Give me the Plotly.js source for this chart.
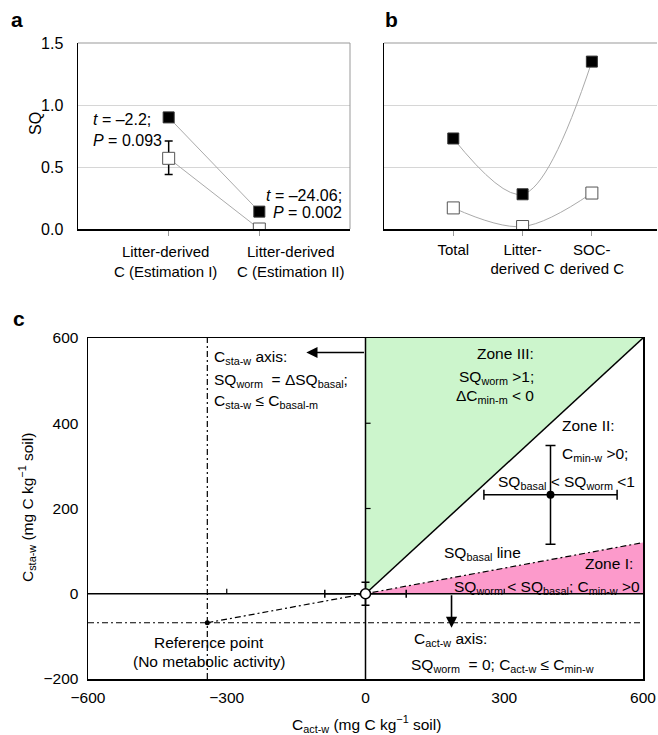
<!DOCTYPE html>
<html><head><meta charset="utf-8">
<script src="https://cdn.plot.ly/plotly-3.0.1.min.js"></script>
<style>html,body{margin:0;padding:0;background:#fff}#chart{width:658px;height:735px}</style>
</head><body><div id="chart"></div>
<script>
// ---------- data ----------
const catsA = ['Litter-derived<br>C (Estimation I)', 'Litter-derived<br>C (Estimation II)'];
const wormA = [0.90, 0.14];
const wormAErr = [0.03, 0.01];
const basalA = [0.57, 0.00];
const basalAErrPlus = [0.14, 0];
const basalAErrMinus = [0.13, 0];

const catsB = ['Total', 'Litter-<br>derived C', 'SOC-<br>derived C'];
const wormB = [0.73, 0.28, 1.35];
const basalB = [0.17, 0.02, 0.29];

const yTicksAB = [0, 0.5, 1.0, 1.5];
const yTickTextAB = ['0.0', '0.5', '1.0', '1.5'];

const xTicksC = [-600, -300, 0, 300, 600];
const yTicksC = [-200, 0, 200, 400, 600];
const innerXTicks = [-300, 300];
const innerYTicks = [200, 400];
const xLim = [-600, 600];
const yLim = [-200, 600];
const refPoint = [-342, -68];
const basalSlope = 0.2;
const zonePoint = [400, 232];
const zoneErr = [144, 116];
const originErr = [88, 27];
const arrowSta = [[0, 566], [-128, 566]];
const arrowAct = [[186, 0], [186, -80]];

// ---------- helpers ----------
const W = 658, H = 735;
const px = v => v / W;
const py = v => 1 - v / H;
const FONT = 'Liberation Sans, Arial, sans-serif';
const FS = 15.5;

function ann(text, x, y, xanchor, opts) {
  return Object.assign({
    text: text, xref: 'paper', yref: 'paper', x: px(x), y: py(y),
    xanchor: xanchor || 'left', yanchor: 'middle', showarrow: false,
    font: {family: FONT, size: FS, color: '#000'}
  }, opts || {});
}

const traces = [];

// ---------- panel a ----------
traces.push({x: catsA, y: wormA, xaxis: 'x', yaxis: 'y', mode: 'lines',
  line: {color: '#aaaaaa', width: 1}, hoverinfo: 'skip', showlegend: false});
traces.push({x: catsA, y: basalA, xaxis: 'x', yaxis: 'y', mode: 'lines',
  line: {color: '#aaaaaa', width: 1}, hoverinfo: 'skip', showlegend: false});
traces.push({x: catsA, y: basalA, xaxis: 'x', yaxis: 'y', mode: 'markers',
  marker: {symbol: 'square', size: 12, color: '#fff', line: {color: '#555', width: 1}},
  error_y: {type: 'data', symmetric: false, array: basalAErrPlus, arrayminus: basalAErrMinus,
    color: '#000', thickness: 1.5, width: 4}, showlegend: false});
traces.push({x: catsA, y: wormA, xaxis: 'x', yaxis: 'y', mode: 'markers',
  marker: {symbol: 'square', size: 11, color: '#000', line: {color: '#333', width: 1}},
  error_y: {type: 'data', array: wormAErr, color: '#000', thickness: 1.5, width: 4},
  showlegend: false});

// ---------- panel b ----------
traces.push({x: catsB, y: wormB, xaxis: 'x2', yaxis: 'y2', mode: 'lines',
  line: {color: '#aaaaaa', width: 1, shape: 'spline', smoothing: 1}, showlegend: false});
traces.push({x: catsB, y: basalB, xaxis: 'x2', yaxis: 'y2', mode: 'lines',
  line: {color: '#aaaaaa', width: 1, shape: 'spline', smoothing: 1}, showlegend: false});
traces.push({x: catsB, y: basalB, xaxis: 'x2', yaxis: 'y2', mode: 'markers',
  marker: {symbol: 'square', size: 12, color: '#fff', line: {color: '#555', width: 1}}, showlegend: false});
traces.push({x: catsB, y: wormB, xaxis: 'x2', yaxis: 'y2', mode: 'markers',
  marker: {symbol: 'square', size: 11, color: '#000', line: {color: '#333', width: 1}}, showlegend: false});

// ---------- panel c ----------
const xMax = xLim[1], yMax = yLim[1];
traces.push({x: [0, 0, xMax, 0], y: [0, yMax, yMax, 0], xaxis: 'x3', yaxis: 'y3',
  mode: 'lines', fill: 'toself', fillcolor: '#ccf5cc', line: {width: 0}, showlegend: false, hoverinfo: 'skip'});
traces.push({x: [0, xMax, xMax, 0], y: [0, 0, xMax * basalSlope, 0], xaxis: 'x3', yaxis: 'y3',
  mode: 'lines', fill: 'toself', fillcolor: '#fc9acb', line: {width: 0}, showlegend: false, hoverinfo: 'skip'});
const DD = '6px,3px,2px,3px';
traces.push({x: [refPoint[0], refPoint[0]], y: yLim, xaxis: 'x3', yaxis: 'y3', mode: 'lines',
  line: {color: '#000', width: 1.2, dash: DD}, showlegend: false, hoverinfo: 'skip'});
traces.push({x: xLim, y: [refPoint[1], refPoint[1]], xaxis: 'x3', yaxis: 'y3', mode: 'lines',
  line: {color: '#000', width: 1.2, dash: DD}, showlegend: false, hoverinfo: 'skip'});
traces.push({x: [refPoint[0], xMax], y: [refPoint[1], xMax * basalSlope], xaxis: 'x3', yaxis: 'y3', mode: 'lines',
  line: {color: '#000', width: 1.2, dash: DD}, showlegend: false, hoverinfo: 'skip'});
traces.push({x: [0, xMax], y: [0, yMax], xaxis: 'x3', yaxis: 'y3', mode: 'lines',
  line: {color: '#000', width: 1.5}, showlegend: false, hoverinfo: 'skip'});
traces.push({x: xLim, y: [0, 0], xaxis: 'x3', yaxis: 'y3', mode: 'lines',
  line: {color: '#000', width: 1.5}, showlegend: false, hoverinfo: 'skip'});
traces.push({x: [0, 0], y: yLim, xaxis: 'x3', yaxis: 'y3', mode: 'lines',
  line: {color: '#000', width: 1.5}, showlegend: false, hoverinfo: 'skip'});
const tx = [], ty = [];
innerXTicks.forEach(v => { tx.push(v, v, null); ty.push(0, 12, null); });
innerYTicks.forEach(v => { tx.push(0, 11, null); ty.push(v, v, null); });
traces.push({x: tx, y: ty, xaxis: 'x3', yaxis: 'y3', mode: 'lines',
  line: {color: '#000', width: 1.2}, showlegend: false, hoverinfo: 'skip'});
traces.push({x: [refPoint[0]], y: [refPoint[1]], xaxis: 'x3', yaxis: 'y3', mode: 'markers',
  marker: {color: '#000', size: 5}, showlegend: false});
traces.push({x: [zonePoint[0]], y: [zonePoint[1]], xaxis: 'x3', yaxis: 'y3', mode: 'markers',
  marker: {color: '#000', size: 8},
  error_x: {type: 'data', array: [zoneErr[0]], color: '#000', thickness: 1.5, width: 5},
  error_y: {type: 'data', array: [zoneErr[1]], color: '#000', thickness: 1.5, width: 5},
  showlegend: false});
traces.push({x: [0], y: [0], xaxis: 'x3', yaxis: 'y3', mode: 'markers',
  marker: {color: '#fff', size: 10, line: {color: '#000', width: 1.5}},
  error_x: {type: 'data', array: [originErr[0]], color: '#000', thickness: 1.5, width: 4},
  error_y: {type: 'data', array: [originErr[1]], color: '#000', thickness: 1.5, width: 4},
  showlegend: false});

// ---------- layout ----------
const tickFont = {family: FONT, size: FS, color: '#000'};
const abFont = {family: FONT, size: 16, color: '#000'};
const catFont = {family: FONT, size: 15, color: '#000'};
const annotations = [
  ann('<b>a</b>', 17, 19, 'center', {font: {family: FONT, size: 21, color: '#000'}}),
  ann('<b>b</b>', 391, 19, 'center', {font: {family: FONT, size: 21, color: '#000'}}),
  ann('<b>c</b>', 19, 319, 'center', {font: {family: FONT, size: 21, color: '#000'}}),
  ann('SQ', 36, 124, 'center', {textangle: -90, font: abFont}),
  ann('<i>t</i> = –2.2;', 91, 120, 'left', {font: abFont}),
  ann('<i>P</i> = 0.093', 91, 141, 'left', {font: abFont}),
  ann('<i>t</i> = –24.06;', 344, 195, 'right', {font: abFont}),
  ann('<i>P</i> = 0.002', 344, 213, 'right', {font: abFont}),
  // panel a category labels (placed as in the reference, slightly off the ticks)
  ann(catsA[0], 165, 241, 'center', {yanchor: 'top', font: catFont}),
  ann(catsA[1], 291, 241, 'center', {yanchor: 'top', font: catFont}),
  ann('C<sub>sta-w</sub> (mg C kg<sup>−1</sup> soil)', 27, 508, 'center', {textangle: -90}),
  ann('C<sub>act-w</sub> (mg C kg<sup>−1</sup> soil)', 366, 724, 'center'),
  ann('C<sub>sta-w</sub> axis:', 212, 357, 'left'),
  ann('SQ<sub>worm</sub>  = ΔSQ<sub>basal</sub>;', 212, 380, 'left'),
  ann('C<sub>sta-w</sub> ≤ C<sub>basal-m</sub>', 212, 401, 'left'),
  ann('Zone III:', 536, 353, 'right'),
  ann('SQ<sub>worm</sub> >1;', 536, 377, 'right'),
  ann('ΔC<sub>min-m</sub> < 0', 536, 396, 'right'),
  ann('Zone II:', 560, 425, 'left'),
  ann('C<sub>min-w</sub> >0;', 560, 454, 'left'),
  ann('SQ<sub>basal</sub> < SQ<sub>worm</sub> <1', 496, 482, 'left'),
  ann('SQ<sub>basal</sub> line', 442, 553, 'left'),
  ann('Zone I:', 635, 563, 'right'),
  ann('SQ<sub>worm</sub> < SQ<sub>basal</sub>; C<sub>min-w</sub> >0', 642, 587, 'right'),
  ann('C<sub>act-w</sub> axis:', 412, 639, 'left'),
  ann('SQ<sub>worm</sub>  = 0; C<sub>act-w</sub> ≤ C<sub>min-w</sub>', 409, 665, 'left'),
  ann('Reference point', 209, 642, 'center'),
  ann('(No metabolic activity)', 209, 661, 'center'),
  {x: arrowSta[1][0], y: arrowSta[1][1], ax: arrowSta[0][0], ay: arrowSta[0][1],
   xref: 'x3', yref: 'y3', axref: 'x3', ayref: 'y3', text: '', showarrow: true,
   arrowhead: 2, arrowsize: 1.4, arrowwidth: 1.6, arrowcolor: '#000', standoff: 0, startstandoff: 0},
  {x: arrowAct[1][0], y: arrowAct[1][1], ax: arrowAct[0][0], ay: arrowAct[0][1],
   xref: 'x3', yref: 'y3', axref: 'x3', ayref: 'y3', text: '', showarrow: true,
   arrowhead: 2, arrowsize: 1.4, arrowwidth: 1.6, arrowcolor: '#000', standoff: 0, startstandoff: 0}
];

const shapes = [
  {type: 'line', xref: 'x domain', yref: 'y domain', x0: 0, x1: 1, y0: 1, y1: 1, line: {color: '#999', width: 1}},
  {type: 'line', xref: 'x domain', yref: 'y domain', x0: 1, x1: 1, y0: 0, y1: 1, line: {color: '#999', width: 1}},
  {type: 'line', xref: 'x2 domain', yref: 'y2 domain', x0: 0, x1: 1, y0: 1, y1: 1, line: {color: '#999', width: 1}}
];

const catAxis = (domain, anchor, range, showLabels) => ({
  domain: domain, anchor: anchor, type: 'category', range: range, tickangle: 0,
  showticklabels: showLabels,
  showgrid: false, zeroline: false, showline: true, linecolor: '#000', linewidth: 1.5,
  ticks: 'outside', ticklen: 5, tickcolor: '#999', tickwidth: 1,
  tickfont: catFont, ticklabelstandoff: 1, fixedrange: true
});
const sqAxis = (domain, anchor, showLabels) => ({
  domain: domain, anchor: anchor, range: [0, 1.5], tickvals: yTicksAB, ticktext: yTickTextAB,
  showticklabels: showLabels, showgrid: true, gridcolor: '#d6d6d6', gridwidth: 1,
  zeroline: false, showline: true, linecolor: '#000', linewidth: 1.5, ticks: '',
  tickfont: abFont, ticklabelstandoff: 10, fixedrange: true
});

const layout = {
  width: W, height: H, margin: {l: 0, r: 0, t: 0, b: 0},
  paper_bgcolor: '#fff', plot_bgcolor: 'rgba(0,0,0,0)', showlegend: false,
  font: {family: FONT, size: FS, color: '#000'},
  xaxis: catAxis([px(78), px(350)], 'y', [-1, 2], false),
  yaxis: sqAxis([py(229), py(43)], 'x', true),
  xaxis2: catAxis([px(384), px(657)], 'y2', [-1, 2.94], true),
  yaxis2: sqAxis([py(229), py(43)], 'x2', false),
  xaxis3: {domain: [px(88), px(643)], anchor: 'y3', range: xLim, tickvals: xTicksC,
    showgrid: false, zeroline: false, showline: true, mirror: true, linecolor: '#000', linewidth: 1.5,
    ticks: '', tickfont: tickFont, ticklabelstandoff: 4, fixedrange: true},
  yaxis3: {domain: [py(679), py(338)], anchor: 'x3', range: yLim, tickvals: yTicksC,
    showgrid: false, zeroline: false, showline: true, mirror: true, linecolor: '#000', linewidth: 1.5,
    ticks: '', tickfont: tickFont, ticklabelstandoff: 5, fixedrange: true},
  annotations: annotations,
  shapes: shapes
};

Plotly.newPlot('chart', traces, layout, {staticPlot: true, displayModeBar: false});
</script>
</body></html>
